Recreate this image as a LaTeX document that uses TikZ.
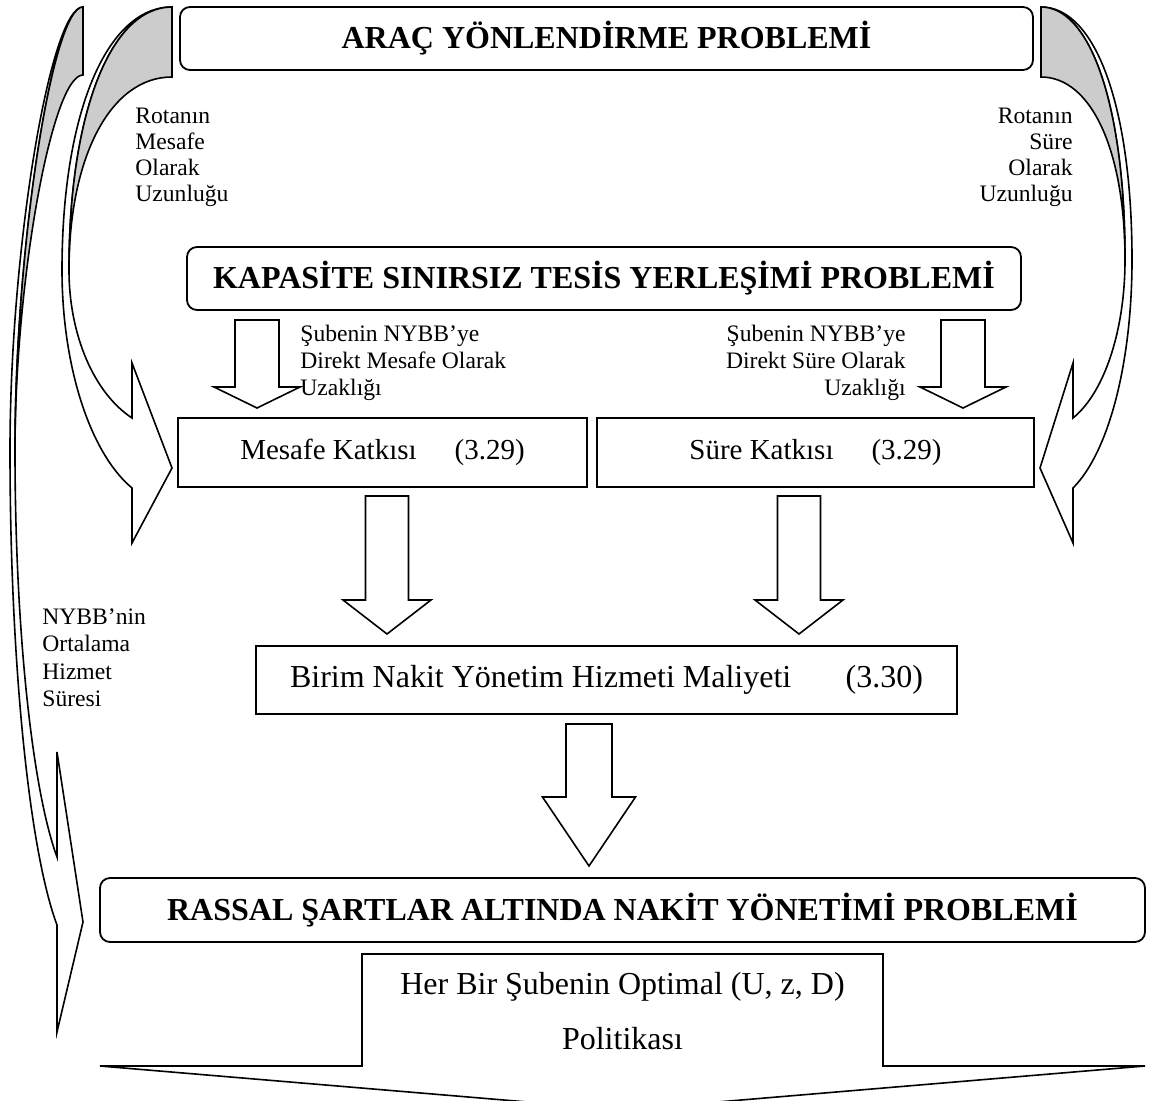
\documentclass[tikz,border=0pt]{standalone}
\usepackage{fontspec}
\setmainfont{Liberation Serif}[BoldFont={Liberation Serif Bold}]
\usepackage{tikz}
\definecolor{backgrey}{RGB}{204,204,204}

\begin{document}
\begin{tikzpicture}[
    x=0.5pt,
    y=-0.5pt,
    probbox/.style={rectangle, draw, rounded corners=5pt, line width=0.9pt,
                    inner sep=0pt, font=\fontsize{16}{19}\selectfont\bfseries},
    plainbox/.style={rectangle, draw, line width=0.9pt, inner sep=0pt,
                     font=\fontsize{16}{19}\selectfont},
    blk/.style={draw, fill=white, line width=0.8pt},
    back/.style={draw, fill=backgrey, line width=0.8pt},
    lbl/.style={inner sep=0pt, font=\fontsize{11.8}{13.5}\selectfont},
]
\useasboundingbox (0,0) rectangle (1151,1101);

% curved arrows on the sides
\draw[blk] (83,7) .. controls (50,7) and (10,251) .. (10,450)
    .. controls (10,661) and (29,850) .. (57,925)
    -- (57,1032) -- (83,922) -- (57,752) -- (57,857)
    .. controls (32,789) and (15,628) .. (15,450)
    .. controls (15,251) and (52,7) .. (83,7) -- cycle;
\draw[back] (83,7) -- (83,75) .. controls (52,75) and (15,281) .. (15,450)
    .. controls (15,251) and (52,7) .. (83,7) -- cycle;

\draw[blk] (172,7) .. controls (106,7) and (62,115) .. (62,270)
    .. controls (62,366) and (90,453) .. (132,488)
    -- (132,543) -- (172,468) -- (132,363) -- (132,418)
    .. controls (94,393) and (69,335) .. (69,270)
    .. controls (69,115) and (110,7) .. (172,7) -- cycle;
\draw[back] (172,7) -- (172,77) .. controls (110,77) and (69,158) .. (69,270)
    .. controls (69,115) and (110,7) .. (172,7) -- cycle;

\draw[blk] (1041,7) .. controls (1096,7) and (1132,108) .. (1132,260)
    .. controls (1132,362) and (1109,452) .. (1073,488)
    -- (1073,543) -- (1040,468) -- (1073,363) -- (1073,418)
    .. controls (1105,392) and (1125,329) .. (1125,260)
    .. controls (1125,108) and (1091,7) .. (1041,7) -- cycle;
\draw[back] (1041,7) -- (1041,77) .. controls (1091,77) and (1125,150) .. (1125,260)
    .. controls (1125,108) and (1091,7) .. (1041,7) -- cycle;

% boxes
\node[probbox, minimum width=426.5pt, minimum height=31.5pt] (arac) at (606.5,38.5)
    {ARAÇ YÖNLENDİRME PROBLEMİ};
\node[probbox, minimum width=417pt, minimum height=31.5pt] (tesis) at (604,278.5)
    {KAPASİTE SINIRSIZ TESİS YERLEŞİMİ PROBLEMİ};
\node[plainbox, minimum width=204.5pt, minimum height=34.5pt,
      font=\fontsize{14.5}{17}\selectfont] (mesafe) at (382.5,452.5)
    {Mesafe Katkısı\hspace{19pt}(3.29)\hspace{16pt}};
\node[plainbox, minimum width=218.5pt, minimum height=34.5pt,
      font=\fontsize{14.5}{17}\selectfont] (sure) at (815.5,452.5)
    {Süre Katkısı\hspace{19pt}(3.29)};
\node[plainbox, minimum width=350.5pt, minimum height=34pt] (birim) at (606.5,680)
    {Birim Nakit Yönetim Hizmeti Maliyeti\hspace{1.7em}(3.30)};
\node[probbox, minimum width=522.5pt, minimum height=32pt] (rassal) at (622.5,910)
    {RASSAL ŞARTLAR ALTINDA NAKİT YÖNETİMİ PROBLEMİ};

% block arrows
\foreach \cx in {257,963}
  \draw[blk] (\cx-22,320) -- (\cx+22,320) -- (\cx+22,387) -- (\cx+43,387)
      -- (\cx,408) -- (\cx-43,387) -- (\cx-22,387) -- cycle;
\foreach \cx in {387,799}
  \draw[blk] (\cx-21.5,496) -- (\cx+21.5,496) -- (\cx+21.5,600) -- (\cx+44,600)
      -- (\cx,634) -- (\cx-44,600) -- (\cx-21.5,600) -- cycle;
\draw[blk] (566,724) -- (612,724) -- (612,797) -- (635.5,797) -- (589,866)
    -- (542.5,797) -- (566,797) -- cycle;
\draw[blk] (362,954) -- (883,954) -- (883,1066) -- (1145,1066) -- (622.5,1110)
    -- (100,1066) -- (362,1066) -- cycle;

% labels
\node[lbl, anchor=north west, align=left, font=\fontsize{11.8}{13}\selectfont] (rotmes)
    at (135,108) {Rotanın\\Mesafe\\Olarak\\Uzunluğu};
\node[lbl, anchor=north east, align=right, font=\fontsize{11.8}{13}\selectfont] (rotsure)
    at (1073,108) {Rotanın\\Süre\\Olarak\\Uzunluğu};
\node[lbl, anchor=north west, align=left] (submes) at (300,325)
    {Şubenin NYBB’ye\\Direkt Mesafe Olarak\\Uzaklığı};
\node[lbl, anchor=north east, align=right] (subsure) at (906,325)
    {Şubenin NYBB’ye\\Direkt Süre Olarak\\Uzaklığı};
\node[lbl, anchor=north west, align=left, font=\fontsize{11.8}{13.8}\selectfont] (nybb)
    at (42,608) {NYBB’nin\\Ortalama\\Hizmet\\Süresi};
\node[lbl, anchor=north, align=center, font=\fontsize{16}{27.5}\selectfont] (politika)
    at (622.5,972) {Her Bir Şubenin Optimal (U, z, D)\\Politikası};
\end{tikzpicture}
\end{document}
